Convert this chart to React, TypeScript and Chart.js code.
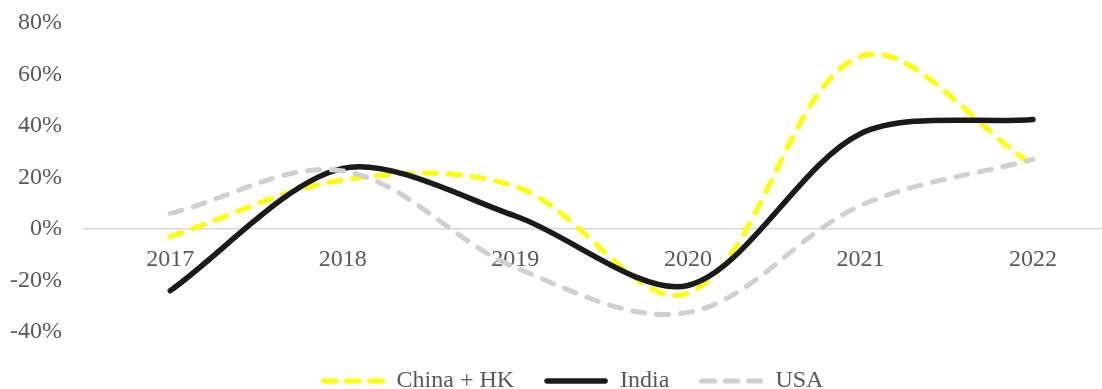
import React, { useEffect, useRef } from "react";
import { Chart, registerables } from "chart.js";

Chart.register(...registerables);

const years = ["2017", "2018", "2019", "2020", "2021", "2022"];
const chinaHK = [-3, 19, 16.5, -25, 67, 25];
const india = [-24, 23.5, 5, -22, 37, 42.5];
const usa = [6, 22.5, -15, -32.5, 9, 27];
const yTicks = [-40, -20, 0, 20, 40, 60, 80];

const FONT = '"Liberation Serif", "Times New Roman", serif';
const TEXT = "#595959";
const COLORS = ["#FFFF00", "#1a1a1a", "#D0D0D0"];
const DASHED = [true, false, true];

const toPoints = (vals: number[]) => vals.map((v, i) => ({ x: i, y: v }));

const zeroPad = (axis: any) => {
  axis.paddingLeft = 0;
  axis.paddingRight = 0;
  axis.paddingTop = 0;
  axis.paddingBottom = 0;
};

const makeLegendLine = (color: string, dashed: boolean) => {
  const c = document.createElement("canvas");
  c.width = 64;
  c.height = 8;
  const ctx = c.getContext("2d")!;
  ctx.strokeStyle = color;
  ctx.lineCap = "round";
  ctx.lineWidth = dashed ? 5 : 5.5;
  ctx.beginPath();
  if (dashed) {
    for (let i = 0; i < 3; i++) {
      const x0 = 2.5 + i * 23.3;
      ctx.moveTo(x0, 4);
      ctx.lineTo(x0 + 12.6, 4);
    }
  } else {
    ctx.moveTo(3, 4);
    ctx.lineTo(61, 4);
  }
  ctx.stroke();
  return c;
};

const legendShift = {
  id: "legendShift",
  afterLayout(chart: any) {
    const l = chart.legend;
    if (l) {
      l.left += 16;
      l.right += 16;
    }
  },
};

export default function App() {
  const ref = useRef<HTMLCanvasElement | null>(null);

  useEffect(() => {
    if (!ref.current) return;
    const legendImgs = COLORS.map((c, i) => makeLegendLine(c, DASHED[i]));
    const chart = new Chart(ref.current, {
      type: "line",
      data: {
        datasets: [
          {
            label: "China + HK",
            data: toPoints(chinaHK),
            borderColor: COLORS[0],
            backgroundColor: COLORS[0],
            borderWidth: 5,
            borderDash: [12, 12],
            borderCapStyle: "round",
            tension: 0.35,
            pointRadius: 0,
            order: 3,
          },
          {
            label: "India",
            data: toPoints(india),
            borderColor: COLORS[1],
            backgroundColor: COLORS[1],
            borderWidth: 5.5,
            borderCapStyle: "round",
            tension: 0.3,
            pointRadius: 0,
            order: 2,
          },
          {
            label: "USA",
            data: toPoints(usa),
            borderColor: COLORS[2],
            backgroundColor: COLORS[2],
            borderWidth: 5,
            borderDash: [12, 12],
            borderCapStyle: "round",
            tension: 0.35,
            pointRadius: 0,
            order: 1,
          },
        ],
      },
      options: {
        animation: false,
        responsive: true,
        maintainAspectRatio: false,
        layout: { padding: { left: 10, right: 0, top: 23, bottom: -14 } },
        scales: {
          x: {
            type: "linear",
            position: { y: 0 },
            min: -0.5,
            max: 5.4,
            grid: { display: false, drawTicks: false },
            border: { display: true, color: "#D9D9D9", width: 1.5 },
            afterBuildTicks: (axis: any) => {
              axis.ticks = years.map((_, i) => ({ value: i }));
            },
            afterFit: zeroPad,
            ticks: {
              autoSkip: false,
              maxRotation: 0,
              padding: 16,
              color: TEXT,
              font: { family: FONT, size: 24 },
              callback: (v: any) => years[Number(v)] ?? "",
            },
          },
          y: {
            min: -40,
            max: 80,
            afterBuildTicks: (axis: any) => {
              axis.ticks = yTicks.map((v) => ({ value: v }));
            },
            afterFit: (axis: any) => {
              zeroPad(axis);
              axis.width = 74;
            },
            grid: { display: false, drawTicks: false },
            border: { display: false },
            ticks: {
              padding: 22,
              color: TEXT,
              font: { family: FONT, size: 24 },
              callback: (v: any) => `${v}%`,
            },
          },
        },
        plugins: {
          tooltip: { enabled: false },
          legend: {
            position: "bottom",
            title: { display: true, text: "", font: { size: 1 }, padding: { top: 6, bottom: 0 } },
            labels: {
              usePointStyle: true,
              pointStyleWidth: 64,
              boxHeight: 24,
              padding: 30,
              color: TEXT,
              font: { family: FONT, size: 24 },
              generateLabels: (ch: any) => {
                const items = Chart.defaults.plugins.legend.labels.generateLabels(ch);
                items.forEach((it: any) => {
                  it.pointStyle = legendImgs[it.datasetIndex];
                });
                return items;
              },
              sort: (a: any, b: any) => a.datasetIndex - b.datasetIndex,
            },
          },
        },
      },
      plugins: [legendShift],
    } as any);
    return () => chart.destroy();
  }, []);

  return (
    <div style={{ position: "absolute", left: 0, top: 0, width: 1102, height: 389, background: "#fff" }}>
      <canvas ref={ref} />
    </div>
  );
}
